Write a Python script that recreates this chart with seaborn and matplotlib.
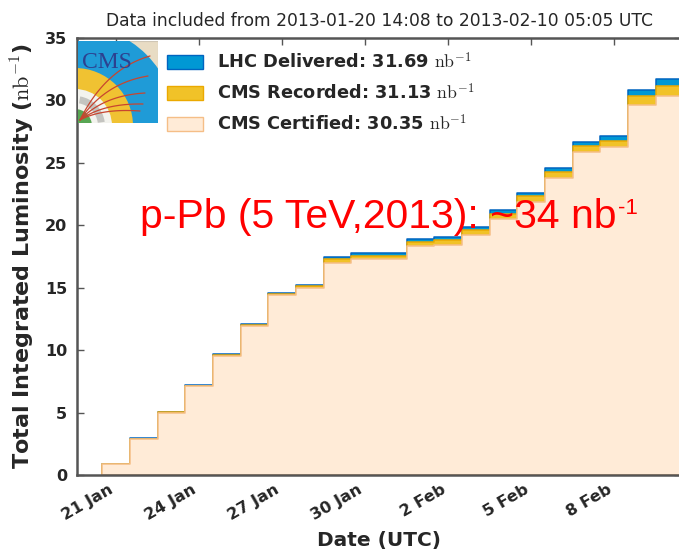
import numpy as np
import pandas as pd
import matplotlib
matplotlib.use("Agg")
import matplotlib.pyplot as plt
import matplotlib.dates as mdates
from matplotlib.patches import Wedge, Rectangle, Patch
import seaborn as sns

# ---- data -------------------------------------------------------------
run_start = "2013-01-20 14:08"
run_end = "2013-02-10 05:05"

# daily bins, centred on midnight UTC
days = pd.date_range("2013-01-21", "2013-02-10", freq="D")

# cumulative integrated luminosity per day (nb^-1)
delivered = [0.88, 2.94, 5.07, 7.20, 9.66, 12.06, 14.55, 15.20, 17.45, 17.80, 17.80,
             18.87, 19.03, 19.88, 21.20, 22.60, 24.55, 26.70, 27.15, 30.85, 31.69]
recorded = [0.87, 2.92, 5.04, 7.16, 9.62, 12.01, 14.48, 15.11, 17.26, 17.58, 17.58,
            18.63, 18.79, 19.62, 20.92, 22.31, 24.24, 26.36, 26.79, 30.34, 31.13]
certified = [0.85, 2.89, 5.00, 7.11, 9.56, 11.94, 14.39, 14.98, 17.00, 17.28, 17.28,
             18.31, 18.45, 19.26, 20.54, 21.90, 23.81, 25.90, 26.30, 29.63, 30.35]

tick_dates = ["2013-01-21", "2013-01-24", "2013-01-27", "2013-01-30",
              "2013-02-02", "2013-02-05", "2013-02-08"]
tick_labels = ["21 Jan", "24 Jan", "27 Jan", "30 Jan", "2 Feb", "5 Feb", "8 Feb"]

# ---- style ------------------------------------------------------------
sns.set_style("ticks")
plt.rcParams["font.family"] = ["DejaVu Sans"]
plt.rcParams["font.weight"] = "bold"
plt.rcParams["mathtext.fontset"] = "cm"

c_del = ("#0098d4", "#0064c0")
c_rec = ("#f1c228", "#eba900")
c_cert = ("#ffebd7", "#f5be87")

fig = plt.figure(figsize=(6.79, 5.55), dpi=100)
ax = fig.add_axes([77 / 679, 80 / 555, 604 / 679, 437 / 555])

x = mdates.date2num(days.to_pydatetime())
edges = list(np.append(x - 0.5, x[-1] + 0.5))
lumi = pd.DataFrame({"day": x, "delivered": delivered,
                     "recorded": recorded, "certified": certified})

for col, (fc, ec) in [("delivered", c_del), ("recorded", c_rec), ("certified", c_cert)]:
    sns.histplot(data=lumi, x="day", weights=col, bins=edges, element="step",
                 fill=True, color=fc, edgecolor=ec, linewidth=1.1, alpha=1, ax=ax)

t0 = pd.Timestamp(run_start) - pd.Timedelta(days=1)
t1 = pd.Timestamp(run_end) + pd.Timedelta(hours=5)
ax.set_xlim(mdates.date2num(t0.to_pydatetime()), mdates.date2num(t1.to_pydatetime()))
ax.set_ylim(0, 35)
ax.set_yticks(range(0, 36, 5))
ax.set_xticks(mdates.date2num(pd.to_datetime(tick_dates).to_pydatetime()))
ax.set_xticklabels(tick_labels, rotation=30, ha="right")

ax.tick_params(direction="in", length=5, width=1, top=True, right=True,
               labelsize=11.5, color="#555555")
ax.tick_params(axis="x", pad=5)
ax.tick_params(axis="y", pad=7)
for s in ax.spines.values():
    s.set_color("#555555")
    s.set_linewidth(1.8)

ax.set_xlabel("Date (UTC)", fontsize=14.5, fontweight="bold", labelpad=6)
ax.set_ylabel(r"Total Integrated Luminosity ($\mathrm{nb}^{-1}$)",
              fontsize=16, fontweight="bold", labelpad=6)
ax.set_title(f"Data included from {run_start} to {run_end} UTC",
             fontsize=12.3, fontweight="normal", pad=9)

handles = [Patch(facecolor=c_del[0], edgecolor=c_del[1], linewidth=1),
           Patch(facecolor=c_rec[0], edgecolor=c_rec[1], linewidth=1),
           Patch(facecolor=c_cert[0], edgecolor=c_cert[1], linewidth=1)]
labels = [f"LHC Delivered: {delivered[-1]:.2f} " + r"$\mathrm{nb}^{-1}$",
          f"CMS Recorded: {recorded[-1]:.2f} " + r"$\mathrm{nb}^{-1}$",
          f"CMS Certified: {certified[-1]:.2f} " + r"$\mathrm{nb}^{-1}$"]
leg = ax.legend(handles, labels, loc="upper left", bbox_to_anchor=(0.149, 0.969),
                borderaxespad=0, borderpad=0, frameon=False,
                prop={"size": 12.8, "weight": "bold"},
                handlelength=2.02, handleheight=0.79, handletextpad=0.79,
                labelspacing=0.6)

# ---- CMS logo ---------------------------------------------------------
logo = fig.add_axes([78 / 679, (555 - 123) / 555, 80 / 679, 82 / 555])
logo.set_xlim(0, 80)
logo.set_ylim(0, 82)
logo.axis("off")
ctr = (-3, -3)
logo.add_patch(Rectangle((0, 0), 80, 82, facecolor="#e8dcc4", edgecolor="#cfc6b5", lw=0.8))
logo.add_patch(Wedge(ctr, 101, 0, 90, facecolor="#1f9bd7", edgecolor="none"))
logo.add_patch(Wedge(ctr, 58, 0, 90, facecolor="#f0c232", edgecolor="none"))
logo.add_patch(Wedge(ctr, 37, 0, 90, facecolor="#f3f3ee", edgecolor="none"))
logo.add_patch(Wedge(ctr, 30, 8, 80, width=7, facecolor="#c4c4c0", edgecolor="none"))
logo.add_patch(Wedge(ctr, 17, 0, 90, facecolor="#58a653", edgecolor="none"))
for ex, ey in [(72, 67), (70, 47), (67, 30), (65, 19), (62, 12)]:
    tt = np.linspace(0, 1, 40)
    cx, cy = ex * 0.38, ey * 0.72 + 6
    xs = (1 - tt) ** 2 * 2 + 2 * (1 - tt) * tt * cx + tt ** 2 * ex
    ys = (1 - tt) ** 2 * 3 + 2 * (1 - tt) * tt * cy + tt ** 2 * ey
    logo.plot(xs, ys, color="#c8452f", lw=0.9)
logo.text(4, 60, "CMS", fontfamily="Liberation Serif", fontweight="normal",
          fontsize=17, color="#2c4190", va="center", ha="left")

# ---- annotation ---------------------------------------------------------
note = fig.text(140 / 679, 1 - 228 / 555, "p-Pb (5 TeV,2013): ~34 nb",
                color="red", fontsize=29.4, fontfamily="Liberation Sans",
                fontweight="normal", va="baseline", ha="left")
ax.annotate("-1", xy=(1, 1), xycoords=note, xytext=(1, 0), textcoords="offset points",
            color="red", fontsize=16, fontfamily="Liberation Sans",
            fontweight="normal", va="top", ha="left", annotation_clip=False)

fig.savefig("out.png", dpi=100)
